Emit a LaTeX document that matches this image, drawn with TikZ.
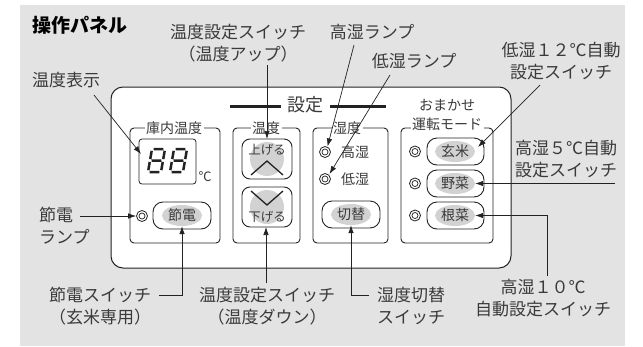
\documentclass[tikz,border=0pt]{standalone}
\usepackage{fontspec}
\setmainfont{Noto Sans CJK JP}
\usetikzlibrary{arrows.meta,shapes.geometric}
\definecolor{bg}{HTML}{E3E3E3}
\definecolor{txt}{HTML}{3A3A3A}
\definecolor{btn}{HTML}{D2D2D2}
\definecolor{ln}{HTML}{222222}
\tikzset{
  lbl/.style={font=\fontsize{17}{22}\selectfont, text=txt, inner sep=0pt, align=center},
  lbll/.style={lbl, align=left},
  small/.style={font=\fontsize{14}{16}\selectfont, text=txt, inner sep=0pt},
  grp/.style={draw=ln, line width=0.9pt, rounded corners=4pt},
  gtitle/.style={small, fill=white, inner sep=1.5pt},
  btnbox/.style={draw=ln, line width=0.9pt, rounded corners=10pt, fill=white},
  oval/.style={ellipse, fill=btn, minimum width=40pt, minimum height=21pt, inner sep=0pt,
    font=\fontsize{14}{15}\selectfont, text=txt},
  lamp/.style={circle, draw=ln, line width=0.8pt, minimum size=11pt, inner sep=0pt,
    path picture={\draw[ln, line width=0.7pt] (path picture bounding box.center) circle[radius=3pt];}},
  arr/.style={draw=ln, line width=0.7pt, -{Latex[length=8pt,width=5.5pt]}},
  segd/.pic={
    \draw[ln, line width=2.5pt]
      (5.56,0) -- (15.44,0)
      (3.56,11.5) -- (13.44,11.5)
      (1.56,23) -- (11.44,23)
      (3.68,1.84) -- (2.24,10.12)
      (1.76,12.88) -- (0.32,21.16)
      (16.68,1.84) -- (15.24,10.12)
      (14.76,12.88) -- (13.32,21.16);
  }
}
\begin{document}
\begin{tikzpicture}[x=1pt,y=-1pt]
\useasboundingbox (0,0) rectangle (643,346);
\fill[bg] (20,5) rectangle (625,346);

% panel
\draw[ln, line width=1pt, fill=white, rounded corners=12pt] (111,87) rectangle (511,268);
\node[lbl, font=\fontsize{18}{20}\selectfont] (settei) at (305,105) {設定};
\draw[ln, line width=3pt] (230,106) -- (281,106);
\draw[ln, line width=3pt] (330,106) -- (386,106);

% group boxes
\draw[grp] (130,128) rectangle (220,243);
\node[gtitle] (g1t) at (174,128) {庫内温度};
\draw[grp] (233,128) rectangle (300,243);
\node[gtitle] (g2t) at (266,128) {温度};
\draw[grp] (313,128) rectangle (388,243);
\node[gtitle] (g3t) at (347,128) {湿度};
\draw[grp] (401,128) rectangle (493,243);
\node[small] (g4a) at (447,105) {おまかせ};
\node[gtitle] (g4t) at (447,124) {運転モード};

% display
\draw[ln, line width=0.8pt, rounded corners=3pt] (139,139) rectangle (196,184);
\node[inner sep=0pt, minimum width=57pt, minimum height=45pt] (disp) at (167.5,161.5) {};
\pic at (148,149) {segd};
\pic at (170,149) {segd};
\node[small, font=\fontsize{13}{14}\selectfont] (degc) at (205,177) {℃};

% setsuden
\node[lamp] (lampS) at (142,216) {};
\draw[btnbox] (153,202) rectangle (211,229);
\node[oval] (bS) at (182,215.5) {節電};

% temp up/down
\draw[btnbox, rounded corners=8pt] (242,139) rectangle (292,179);
\fill[btn] (267,159) circle[radius=17pt];
\node[font=\fontsize{12.5}{14}\selectfont, text=txt, inner sep=0pt] (up) at (267,150) {上げる};
\draw[ln, line width=1.3pt] (251,175) -- (267,161) -- (283,175);
\coordinate (upTop) at (267,139);
\draw[btnbox, rounded corners=8pt] (242,187) rectangle (292,227);
\fill[btn] (267,207) circle[radius=17pt];
\draw[ln, line width=1.3pt] (251,191) -- (267,205) -- (283,191);
\node[font=\fontsize{12.5}{14}\selectfont, text=txt, inner sep=0pt] (down) at (267,217) {下げる};
\coordinate (downBot) at (266,227);

% humidity
\node[lamp] (lampH) at (325,152) {};
\node[lamp] (lampL) at (325,179) {};
\node[small] (tH) at (355,152) {高湿};
\node[small] (tL) at (355,179) {低湿};
\draw[btnbox] (322,201) rectangle (380,228);
\node[oval] (bK) at (351,214.5) {切替};

% omakase
\node[lamp] (lamp1) at (415,151.5) {};
\node[lamp] (lamp2) at (415,183.5) {};
\node[lamp] (lamp3) at (415,215.5) {};
\draw[btnbox] (427,138) rectangle (484,165);
\draw[btnbox] (427,170) rectangle (484,197);
\draw[btnbox] (427,202) rectangle (484,229);
\node[oval] (bG) at (455,151.5) {玄米};
\node[oval] (bY) at (455,183.5) {野菜};
\node[oval] (bN) at (455,215.5) {根菜};

% outer labels
\node[lbl, font=\bfseries\fontsize{19}{22}\selectfont, text=black] (title) at (80,25) {操作パネル};
\node[lbl] (lUp) at (238,43) {温度設定スイッチ\\（温度アップ）};
\node[lbl] (lDisp) at (66,80) {温度表示};
\node[lbl] (lHH) at (372,32) {高湿ランプ};
\node[lbl] (lLL) at (414,61) {低湿ランプ};
\node[lbl] (l12) at (561,61) {低湿１２℃自動\\設定スイッチ};
\node[lbll, anchor=west] (l5) at (515,159) {高湿５℃自動\\設定スイッチ};
\node[lbll, anchor=west] (lSL) at (39,226) {節電\\ランプ};
\node[lbl] (lSS) at (100,306) {節電スイッチ\\（玄米専用）};
\node[lbl] (lDn) at (267,306) {温度設定スイッチ\\（温度ダウン）};
\node[lbll, anchor=west] (lKK) at (377,306) {湿度切替\\スイッチ};
\node[lbl] (l10) at (543,298) {高湿１０℃\\自動設定スイッチ};

% connectors
\coordinate (cUp) at (267,65);
\draw[arr] (cUp) -- (upTop);
\coordinate (cDisp) at (94,95);
\coordinate (tDisp) at (141,154);
\draw[arr] (cDisp) -- (tDisp);
\coordinate (cHH) at (354,45);
\coordinate (tHH) at (327.5,146.5);
\draw[arr] (cHH) -- (tHH);
\coordinate (cLL) at (390,75);
\coordinate (tLL) at (329.5,174);
\draw[arr] (cLL) -- (tLL);
\coordinate (c12) at (540,85);
\coordinate (t12) at (478,147);
\draw[arr] (c12) -- (t12);
\coordinate (c5) at (615,183.5);
\draw[arr] (c5) -- (bY.east);
\coordinate (c10a) at (547,276);
\coordinate (c10b) at (547,215.5);
\draw[arr] (c10a) -- (c10b) -- (bN.east);
\coordinate (cSL) at (80,216);
\draw[arr] (cSL) -- (lampS.west);
\coordinate (cSSa) at (159,295);
\coordinate (cSSb) at (182,295);
\draw[arr] (cSSa) -- (cSSb) -- (bS.south);
\coordinate (cDn) at (266,283);
\draw[arr] (cDn) -- (downBot);
\coordinate (cKKa) at (369,295);
\coordinate (cKKb) at (351,295);
\draw[arr] (cKKa) -- (cKKb) -- (bK.south);
\end{tikzpicture}
\end{document}
